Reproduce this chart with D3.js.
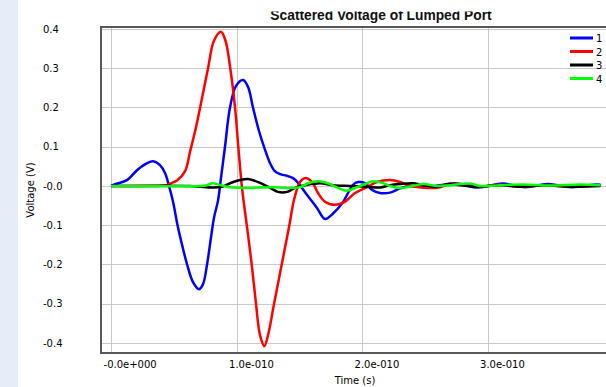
<!DOCTYPE html>
<html>
<head>
<meta charset="utf-8">
<script src="https://cdn.jsdelivr.net/npm/d3@7"></script>
<style>
    html, body { margin: 0; padding: 0; background: #fff; }
    svg { display: block; }
</style>
</head>
<body>
<div id="chart"></div>
<script>
// time in ps, voltage in V
const port1 = [[0,0],[4,0.005],[12.7,0.015],[20.7,0.04],[28.7,0.058],[33.5,0.063],[39,0.053],[43,0.033],[46.2,0],[49.4,-0.04],[53,-0.1],[56.6,-0.15],[60.6,-0.2],[65.3,-0.245],[70.1,-0.263],[73.3,-0.25],[76.5,-0.2],[79.7,-0.13],[82.1,-0.08],[85.3,-0.036],[87.6,0.02],[90.8,0.1],[94.8,0.2],[99.6,0.255],[105.2,0.27],[109.2,0.252],[113.1,0.2],[117.9,0.14],[122.7,0.092],[126.7,0.058],[130.5,0.038],[134.7,0.03],[140,0.026],[145,0.02],[149,0.008],[156.2,-0.023],[164.1,-0.056],[170.5,-0.084],[176.9,-0.07],[185,-0.04],[192.8,0.003],[196.8,0.01],[202.4,0.007],[208,-0.01],[214.3,-0.018],[222.3,-0.017],[230.3,-0.006],[238.2,0],[250,-0.003],[262,0.002],[274,0.007],[292,-0.004],[312,0.006],[330,-0.003],[348,0.005],[367,-0.003],[387,0.004],[390,0.003]];
const port2 = [[0,0],[31,0],[43,0.001],[47,0.006],[52.6,0.014],[59,0.038],[63,0.088],[67,0.14],[71,0.2],[77.3,0.3],[82,0.37],[87.6,0.393],[91.2,0.37],[95,0.3],[98.8,0.2],[101.4,0.1],[104.2,0],[106.5,-0.06],[109,-0.12],[112.1,-0.2],[115.5,-0.3],[118.7,-0.38],[122.2,-0.408],[125.1,-0.38],[129.9,-0.3],[136,-0.2],[142.1,-0.1],[145.8,-0.035],[150.6,0.01],[154.6,0.02],[160.2,0.01],[164.9,-0.018],[170.5,-0.04],[178.5,-0.048],[186.5,-0.04],[194.4,-0.018],[204,-0.003],[212,0.01],[222.3,0.015],[230.3,0.01],[238.2,0],[246.2,-0.003],[251.8,-0.005],[262.2,-0.003],[270.1,0.005],[286,0.002],[294,-0.002],[310,0.003],[326,-0.002],[346,0.002],[366,-0.002],[390,0.001]];
const port3 = [[0,0],[63,0],[71,-0.002],[81.3,-0.004],[88.4,-0.002],[94.8,0.007],[102.8,0.015],[109.2,0.018],[118.7,0.008],[126.7,-0.005],[133.1,-0.015],[140.2,-0.015],[146.6,-0.005],[156.2,0.003],[166.5,0.007],[176.9,0.002],[190.4,0],[204,-0.002],[214.3,-0.004],[222.3,0.002],[230.3,0.005],[240.6,0.007],[248.6,0.002],[259.8,-0.002],[267.7,0.004],[280.5,0.001],[291.6,-0.002],[310,0.002],[326,-0.002],[346,0.002],[366,-0.002],[390,0]];
const port4 = [[0,0],[71,0],[76.5,0.002],[80.5,0.007],[85.3,0.004],[92.4,-0.002],[97.2,-0.004],[110.8,-0.005],[118.7,-0.004],[129.1,-0.003],[140.2,-0.005],[150.6,-0.003],[157,0.007],[165,0.012],[172.9,0.007],[180.9,-0.005],[188,-0.012],[196,-0.003],[204,0.007],[208.8,0.012],[216,0.008],[222.3,0],[230.3,-0.005],[240.6,0],[248.6,0.005],[259.8,0],[270,0.002],[286,0.006],[294,0],[310,0.002],[328,0.004],[350,0.001],[374,0.004],[390,0.002]];

const seriesNames = ['1', '2', '3', '4'];
const seriesColors = ['#0000ff', '#ff0000', '#000000', '#00ff00'];

const xTicks = [0, 100, 200, 300];
const xTickLabels = ['-0.0e+000', '1.0e-010', '2.0e-010', '3.0e-010'];
const yTicks = [0.4, 0.3, 0.2, 0.1, 0, -0.1, -0.2, -0.3, -0.4];
const yTickLabels = ['0.4', '0.3', '0.2', '0.1', '-0.0', '-0.1', '-0.2', '-0.3', '-0.4'];

const w = 606, h = 387;
const plot = { left: 101, top: 27, right: 606, bottom: 353 };

const svg = d3.select('#chart').append('svg')
    .attr('width', w)
    .attr('height', h)
    .style('font-family', '"DejaVu Sans", sans-serif');

// pale strip on the left
svg.append('rect')
    .attr('x', 0).attr('y', 0)
    .attr('width', 18).attr('height', h)
    .attr('fill', '#e5edf8');

const xScale = d3.scaleLinear()
    .domain([-8, 394.4])
    .range([plot.left, plot.right]);

const yScale = d3.scaleLinear()
    .domain([-0.4255, 0.405])
    .range([plot.bottom, plot.top]);

// grid
const grid = svg.append('g').attr('stroke', '#c9c9c9').attr('stroke-width', 1);
grid.selectAll('.gx')
    .data(xTicks)
    .enter()
    .append('line')
    .attr('x1', d => Math.round(xScale(d)) + 0.5)
    .attr('x2', d => Math.round(xScale(d)) + 0.5)
    .attr('y1', plot.top)
    .attr('y2', plot.bottom);
grid.selectAll('.gy')
    .data(yTicks)
    .enter()
    .append('line')
    .attr('x1', plot.left)
    .attr('x2', plot.right)
    .attr('y1', d => Math.round(yScale(d)) + 0.5)
    .attr('y2', d => Math.round(yScale(d)) + 0.5);

// curves
svg.append('clipPath').attr('id', 'plotClip')
    .append('rect')
    .attr('x', plot.left).attr('y', plot.top)
    .attr('width', plot.right - plot.left)
    .attr('height', plot.bottom - plot.top);

const line = d3.line()
    .x(d => xScale(d[0]))
    .y(d => yScale(d[1]))
    .curve(d3.curveCatmullRom.alpha(0.5));

const allSeries = [port1, port2, port3, port4];
svg.append('g')
    .attr('clip-path', 'url(#plotClip)')
    .selectAll('path')
    .data(allSeries)
    .enter()
    .append('path')
    .attr('d', d => line(d))
    .attr('fill', 'none')
    .attr('stroke', (d, i) => seriesColors[i])
    .attr('stroke-width', 2.5)
    .attr('stroke-linejoin', 'round');

// frame
const frame = svg.append('g').attr('stroke', '#585858').attr('stroke-width', 2);
frame.append('line').attr('x1', plot.left).attr('x2', plot.right).attr('y1', plot.top).attr('y2', plot.top);
frame.append('line').attr('x1', plot.left).attr('x2', plot.left).attr('y1', plot.top - 1).attr('y2', plot.bottom + 1);
frame.append('line').attr('x1', plot.left).attr('x2', plot.right).attr('y1', plot.bottom).attr('y2', plot.bottom);

// y axis labels
const yAxis = d3.axisLeft(yScale)
    .tickValues(yTicks)
    .tickSize(0)
    .tickFormat((d, i) => yTickLabels[i]);

svg.append('g')
    .attr('transform', 'translate(43, 0)')
    .call(yAxis)
    .call(g => g.select('.domain').remove())
    .selectAll('text')
    .attr('x', 0)
    .attr('text-anchor', 'start')
    .attr('fill', '#000')
    .style('font-size', '10px')
    .style('font-family', '"DejaVu Sans", sans-serif');

// x axis labels
const xAxis = d3.axisBottom(xScale)
    .tickValues(xTicks)
    .tickSize(0)
    .tickFormat((d, i) => xTickLabels[i]);

svg.append('g')
    .attr('transform', 'translate(0, ' + plot.bottom + ')')
    .call(xAxis)
    .call(g => g.select('.domain').remove())
    .selectAll('text')
    .attr('x', -8)
    .attr('y', 15)
    .attr('dy', 0)
    .attr('text-anchor', 'start')
    .attr('fill', '#000')
    .style('font-size', '10px')
    .style('font-family', '"DejaVu Sans", sans-serif');

// axis titles
svg.append('text')
    .attr('x', 355)
    .attr('y', 384)
    .attr('text-anchor', 'middle')
    .style('font-size', '10px')
    .text('Time (s)');

svg.append('text')
    .attr('transform', 'translate(34, 190) rotate(-90)')
    .attr('text-anchor', 'middle')
    .style('font-size', '10px')
    .text('Voltage (V)');

// title, top of it is cut off like in the original window
svg.append('clipPath').attr('id', 'titleClip')
    .append('rect')
    .attr('x', 0).attr('y', 11.5)
    .attr('width', w).attr('height', 14);

svg.append('text')
    .attr('clip-path', 'url(#titleClip)')
    .attr('x', 381)
    .attr('y', 20)
    .attr('text-anchor', 'middle')
    .style('font-family', '"Liberation Sans", Arial, sans-serif')
    .style('font-weight', 'bold')
    .style('font-size', '13.8px')
    .attr('fill', '#111')
    .text('Scattered Voltage of Lumped Port');

// legend
const legend = svg.append('g')
    .selectAll('g')
    .data(seriesNames)
    .enter()
    .append('g')
    .attr('transform', (d, i) => 'translate(570, ' + (38 + i * 13.5) + ')');

legend.append('line')
    .attr('x1', 0).attr('x2', 23)
    .attr('y1', 0).attr('y2', 0)
    .attr('stroke', (d, i) => seriesColors[i])
    .attr('stroke-width', 3);

legend.append('text')
    .attr('x', 26)
    .attr('y', 4)
    .style('font-size', '10px')
    .text(d => d);
</script>
</body>
</html>
